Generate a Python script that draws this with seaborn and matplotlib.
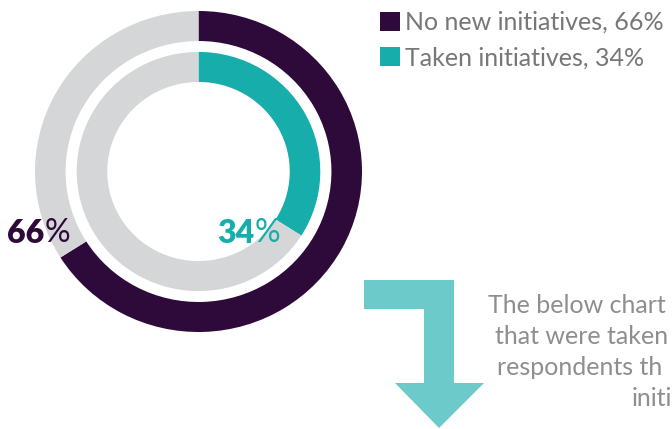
import matplotlib
matplotlib.use("Agg")
import matplotlib.pyplot as plt
from matplotlib.patches import Patch, Polygon
import seaborn as sns

# Survey split: respondents with no new initiatives vs. those who took some
categories = ["No new initiatives", "Taken initiatives"]
shares = [66, 34]
legend_labels = [f"{c}, {v}%" for c, v in zip(categories, shares)]
note_lines = ["The below chart", "that were taken", "respondents th", "initi"]
note_x = [488, 495, 497, 632]

DARK = "#2e0a3a"
TEAL = "#17adaa"
RING_GREY = "#d5d6d8"
ARROW = "#6ccbca"
TEXT_GREY = "#777777"
NOTE_GREY = "#8e8e8e"

sns.set_theme(style="white")
plt.rcParams["font.family"] = ["Lato", "DejaVu Sans"]

W, H = 672, 429
fig = plt.figure(figsize=(W / 100, H / 100), dpi=100)
fig.patch.set_facecolor("white")

# Donut axes
ax = fig.add_axes([35 / W, 1 - 332 / H, 327 / W, 321 / H])
ring_w = 0.187
ax.pie([shares[0], shares[1]], colors=[DARK, RING_GREY], startangle=90,
       counterclock=False, radius=1.0,
       wedgeprops=dict(width=ring_w, edgecolor="none", linewidth=0))
ax.pie([shares[1], shares[0]], colors=[TEAL, RING_GREY], startangle=90,
       counterclock=False, radius=0.745,
       wedgeprops=dict(width=ring_w, edgecolor="none", linewidth=0))
ax.set_xlim(-1, 1)
ax.set_ylim(-1, 1)
ax.set_aspect("auto")
ax.axis("off")

# Pixel-space overlay for labels and the arrow, drawn above the donut
bg = fig.add_axes([0, 0, 1, 1])
bg.set_zorder(5)
bg.patch.set_alpha(0)
bg.set_xlim(0, W)
bg.set_ylim(H, 0)
bg.axis("off")

# Value labels: heavy number followed by a lighter percent sign
def value_label(x, y, value, color):
    num = bg.text(x, y, f"{value}", color=color, fontsize=23,
                  fontweight="heavy", ha="left", va="baseline")
    bg.annotate("%", xy=(1, 0), xycoords=num, xytext=(0.5, 0),
                textcoords="offset points", color=color, fontsize=23,
                fontweight="normal", ha="left", va="bottom")

value_label(7, 243, shares[0], DARK)
value_label(217, 243, shares[1], TEAL)

# Legend
handles = [Patch(facecolor=DARK, edgecolor="none"),
           Patch(facecolor=TEAL, edgecolor="none")]
fig.legend(handles, legend_labels, loc="upper left",
           bbox_to_anchor=(380 / W, 1 - 11 / H), frameon=False,
           handlelength=0.8, handleheight=0.8,
           handletextpad=0.2, labelspacing=0.5, borderpad=0,
           borderaxespad=0, labelcolor=TEXT_GREY,
           prop={"family": ["Lato", "DejaVu Sans"], "weight": "normal",
                 "size": 18})

# Elbow arrow pointing down to the next chart
arrow = Polygon([(364, 280), (454, 280), (454, 383), (484, 383), (439, 428),
                 (395, 383), (424, 383), (424, 309), (364, 309)],
                closed=True, facecolor=ARROW, edgecolor="none")
bg.add_patch(arrow)

for i, (line, x) in enumerate(zip(note_lines, note_x)):
    bg.text(x, 313 + i * 31, line, color=NOTE_GREY, fontsize=18,
            fontweight="normal", ha="left", va="baseline")

fig.savefig("out.png", dpi=100, facecolor="white")
